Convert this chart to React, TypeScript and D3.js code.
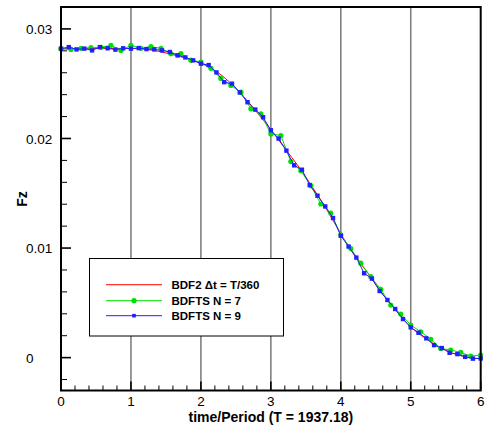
import React from "react";
import * as d3 from "d3";

// Data (time/Period vs Fz)
const blueTimesPerPeriod = 9; // BDFTS N = 9 sample spacing: 1/9 period
const blueValues = [
  0.0282, 0.02834, 0.02813, 0.0282, 0.02804, 0.02834, 0.02823, 0.02811, 0.02823, 0.0282,
  0.02825, 0.02816, 0.02813, 0.02804, 0.02789, 0.02758, 0.0274, 0.02713, 0.02683, 0.0267,
  0.02603, 0.02514, 0.025, 0.0242, 0.02331, 0.02264, 0.02194, 0.02075, 0.01999, 0.01889,
  0.01755, 0.01715, 0.01575, 0.01478, 0.0138, 0.01274, 0.01112, 0.01014, 0.00913, 0.0077,
  0.00721, 0.00608, 0.00526, 0.00444, 0.00352, 0.00276, 0.00227, 0.00176, 0.00114, 0.00087,
  0.00044, 0.00032, 0.00007, -0.00009, -0.00007,
];
const greenTimesPerPeriod = 7; // BDFTS N = 7 sample spacing: 1/7 period
const greenValues = [
  0.0282, 0.02813, 0.02823, 0.02829, 0.02832, 0.0285, 0.02804, 0.0285, 0.02823, 0.02838,
  0.02823, 0.02774, 0.02774, 0.02715, 0.02697, 0.0264, 0.02548, 0.02484, 0.02423, 0.02271,
  0.02225, 0.02042, 0.02027, 0.01789, 0.01706, 0.01569, 0.01402, 0.01319, 0.01121, 0.00995,
  0.00862, 0.00739, 0.00624, 0.0048, 0.00398, 0.00297, 0.00236, 0.00167, 0.00084, 0.00069,
  0.00048, 0.00014, 0.00023,
];
const redTimes = [
  0, 0.2, 0.4, 0.6, 0.8, 1.0, 1.2, 1.4, 1.6, 1.8, 2.0, 2.2, 2.4, 2.6, 2.8, 3.0,
  3.2, 3.4, 3.6, 3.8, 4.0, 4.2, 4.4, 4.6, 4.8, 5.0, 5.2, 5.4, 5.6, 5.8, 6.0,
];
const redValues = [
  0.02818, 0.0282, 0.02822, 0.02822, 0.02822, 0.02822, 0.02815, 0.02795, 0.02765, 0.0273,
  0.02685, 0.0262, 0.0252, 0.0239, 0.0224, 0.0208, 0.0191, 0.0174, 0.0155, 0.0135,
  0.0113, 0.0093, 0.0076, 0.0058, 0.0042, 0.0028, 0.0018, 0.001, 0.0004, 0.00005, -0.0001,
];
const xMajorTicks = [0, 1, 2, 3, 4, 5, 6];
const xTickLabels = ["0", "1", "2", "3", "4", "5", "6"];
const yMajorTicks = [0, 0.01, 0.02, 0.03];
const yTickLabels = ["0", "0.01", "0.02", "0.03"];
const legendLabels = ["BDF2 \u0394t = T/360", "BDFTS N = 7", "BDFTS N = 9"];
const xTitle = "time/Period (T = 1937.18)";
const yTitle = "Fz";

const W = 486;
const H = 431;
const L = 61;
const R = 480.7;
const T = 7;
const B = 390.5;
const FONT = "'Liberation Sans', Arial, Helvetica, sans-serif";
const RED = "#ff0000";
const GREEN = "#00e000";
const BLUE = "#2020ff";

export default function App() {
  const x = d3.scaleLinear().domain([0, 6]).range([L, R]);
  const y = d3.scaleLinear().domain([-0.003, 0.032]).range([B, T]);

  const blue = blueValues.map((v, i) => [i / blueTimesPerPeriod, v] as [number, number]);
  const green = greenValues.map((v, i) => [i / greenTimesPerPeriod, v] as [number, number]);
  const red = redValues.map((v, i) => [redTimes[i], v] as [number, number]);

  const line = d3
    .line<[number, number]>()
    .x((d) => x(d[0]))
    .y((d) => y(d[1]));
  const smooth = d3
    .line<[number, number]>()
    .x((d) => x(d[0]))
    .y((d) => y(d[1]))
    .curve(d3.curveMonotoneX);

  const xMinor = d3.range(0, 6.0001, 0.2).filter((t) => Math.abs(t - Math.round(t)) > 1e-6);
  const yMinor = d3
    .range(-0.002, 0.0321, 0.002)
    .filter((v) => Math.abs(v * 100 - Math.round(v * 100)) > 1e-6);

  const legX = 89.5;
  const legY = 258.5;
  const legW = 194;
  const legH = 77.5;
  const legRows = [284.7, 300.7, 315.7];
  const legLineX1 = 106;
  const legLineX2 = 162;
  const legTextX = 171.5;

  return (
    <svg
      width={W}
      height={H}
      style={{ position: "absolute", left: 0, top: 0, background: "#fff" }}
      fontFamily={FONT}
    >
      <rect x={0} y={0} width={W} height={H} fill="#fff" />
      {/* vertical grid lines */}
      {xMajorTicks.slice(1, -1).map((t) => (
        <line key={"g" + t} x1={x(t)} x2={x(t)} y1={T} y2={B} stroke="#808080" strokeWidth={1.6} />
      ))}
      {/* x ticks */}
      {xMajorTicks.map((t) => (
        <line key={"xt" + t} x1={x(t)} x2={x(t)} y1={B} y2={B - 9} stroke="#000" strokeWidth={1.6} />
      ))}
      {xMinor.map((t) => (
        <line key={"xm" + t} x1={x(t)} x2={x(t)} y1={B} y2={B - 5} stroke="#000" strokeWidth={1} />
      ))}
      {/* y ticks */}
      {yMajorTicks.map((v) => (
        <line key={"yt" + v} x1={L} x2={L + 10} y1={y(v)} y2={y(v)} stroke="#000" strokeWidth={1.6} />
      ))}
      {yMinor.map((v) => (
        <line key={"ym" + v} x1={L} x2={L + 6} y1={y(v)} y2={y(v)} stroke="#000" strokeWidth={1} />
      ))}
      {/* legend box */}
      <rect x={legX} y={legY} width={legW} height={legH} fill="#fff" stroke="#000" strokeWidth={1} />
      {/* series */}
      <path d={smooth(red) || ""} fill="none" stroke={RED} strokeWidth={1} />
      <path d={line(green) || ""} fill="none" stroke={GREEN} strokeWidth={1} />
      {green.map((d, i) => (
        <circle key={"gc" + i} cx={x(d[0])} cy={y(d[1])} r={2.6} fill={GREEN} />
      ))}
      <path d={line(blue) || ""} fill="none" stroke={BLUE} strokeWidth={1} />
      {blue.map((d, i) => (
        <rect key={"bs" + i} x={x(d[0]) - 2.2} y={y(d[1]) - 2.2} width={4.4} height={4.4} fill={BLUE} />
      ))}
      {/* frame */}
      <rect x={L} y={T} width={R - L} height={B - T} fill="none" stroke="#000" strokeWidth={2} />
      {/* tick labels */}
      {xMajorTicks.map((t, i) => (
        <text key={"xl" + t} x={x(t)} y={406} textAnchor="middle" fontSize={13.5} fill="#000">
          {xTickLabels[i]}
        </text>
      ))}
      {yMajorTicks.map((v, i) => (
        <text key={"yl" + v} x={26} y={y(v) + 5.3} textAnchor="start" fontSize={13.5} fill="#000">
          {yTickLabels[i]}
        </text>
      ))}
      {/* axis titles */}
      <text x={(L + R) / 2} y={422} textAnchor="middle" fontSize={14} fontWeight="bold" fill="#000">
        {xTitle}
      </text>
      <text
        transform={`translate(27,${199}) rotate(-90)`}
        textAnchor="middle"
        fontSize={14}
        fontWeight="bold"
        fill="#000"
      >
        {yTitle}
      </text>
      {/* legend entries */}
      <line x1={legLineX1} x2={legLineX2} y1={legRows[0]} y2={legRows[0]} stroke={RED} strokeWidth={1} />
      <line x1={legLineX1} x2={legLineX2} y1={legRows[1]} y2={legRows[1]} stroke={GREEN} strokeWidth={1} />
      <circle cx={(legLineX1 + legLineX2) / 2} cy={legRows[1]} r={2.6} fill={GREEN} />
      <line x1={legLineX1} x2={legLineX2} y1={legRows[2]} y2={legRows[2]} stroke={BLUE} strokeWidth={1} />
      <rect
        x={(legLineX1 + legLineX2) / 2 - 1.8}
        y={legRows[2] - 1.8}
        width={3.6}
        height={3.6}
        fill={BLUE}
      />
      {legendLabels.map((s, i) => (
        <text key={"lg" + i} x={legTextX} y={legRows[i] + 4} fontSize={11.5} fontWeight="bold" fill="#000">
          {s}
        </text>
      ))}
    </svg>
  );
}
